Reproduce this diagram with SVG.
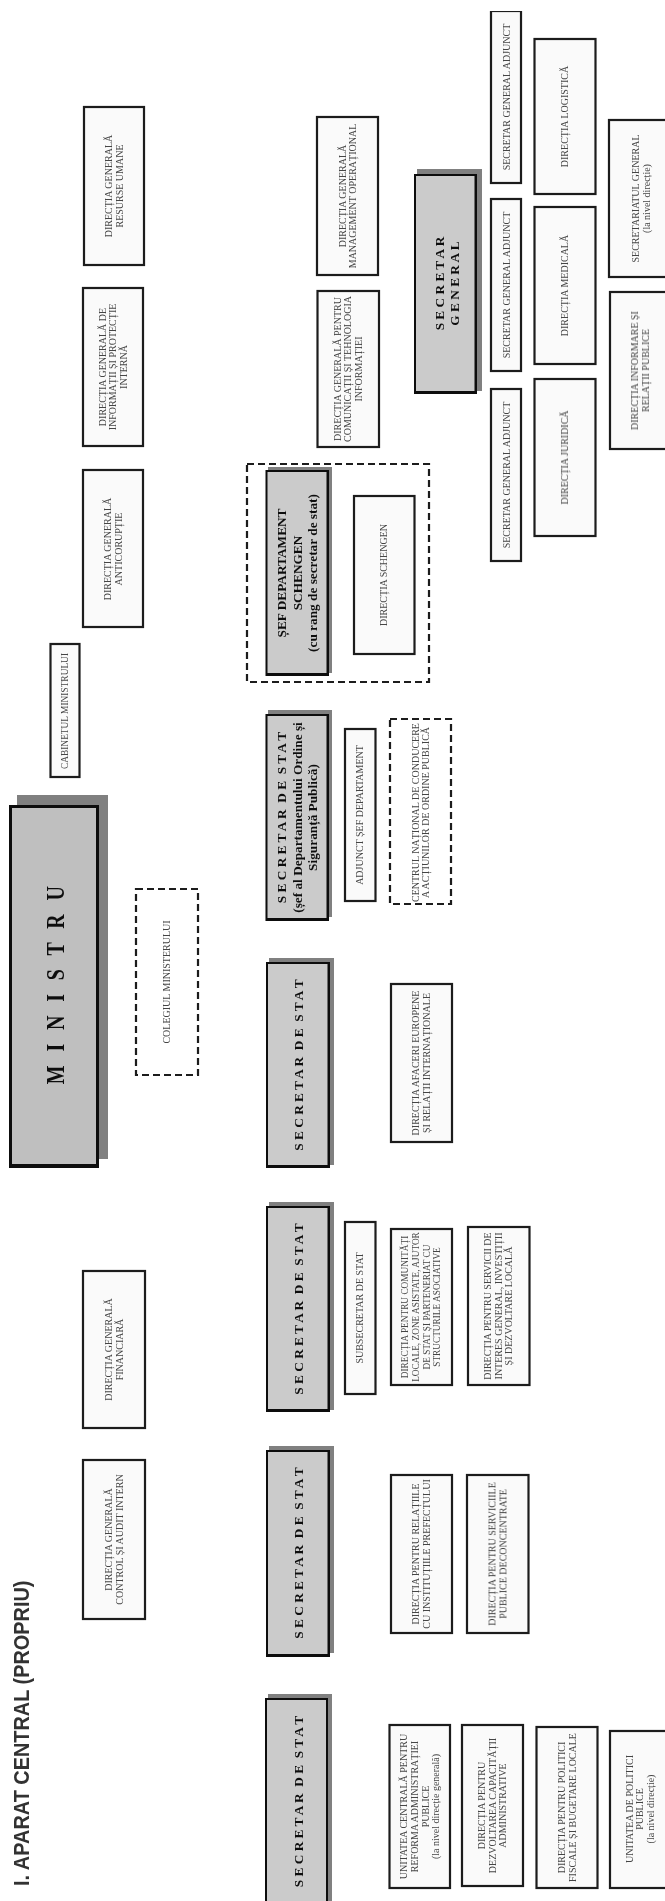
<svg xmlns="http://www.w3.org/2000/svg" width="665" height="1901" viewBox="0 0 665 1901">
<defs><filter id="soft" x="0" y="0" width="100%" height="100%" filterUnits="objectBoundingBox"><feGaussianBlur stdDeviation="0.45"/></filter></defs>
<style>
.box{fill:#fafafa;stroke:#1c1c1c;stroke-width:2.2}
.dash{fill:#fff;stroke:#1c1c1c;stroke-width:2.2;stroke-dasharray:7 4}
.sh{fill:#808080}.edge{fill:#0c0c0c}.face{fill:#cbcbcb}.mface{fill:#bfbfbf}
.t{font:10px "Liberation Serif","Times New Roman",serif;fill:#444;text-anchor:middle;white-space:pre}
.b{font:bold 13.3px "Liberation Serif","Times New Roman",serif;fill:#111;text-anchor:middle;white-space:pre}
</style>
<rect width="665" height="1901" fill="#fff"/>
<g filter="url(#soft)">
<g id="connectors"></g>
<g id="title"><text transform="translate(29,1886) rotate(-90) scale(.905,1)" style="font:bold 22px 'Liberation Sans',Arial,sans-serif;fill:#333">I. APARAT CENTRAL (PROPRIU)</text></g>

<g id="dg-resurse"><rect class="box" x="84" y="107" width="60" height="158"/><text class="t" transform="translate(114,186) rotate(-90)"><tspan x="0" y="-2">DIRECȚIA GENERALĂ</tspan><tspan x="0" y="8.6">RESURSE UMANE</tspan></text></g>
<g id="dg-informatii"><rect class="box" x="83" y="288" width="60" height="158"/><text class="t" transform="translate(113,367) rotate(-90)"><tspan x="0" y="-7.3">DIRECȚIA GENERALĂ DE</tspan><tspan x="0" y="3.3">INFORMAȚII ȘI PROTECȚIE</tspan><tspan x="0" y="13.9">INTERNĂ</tspan></text></g>
<g id="dg-anticoruptie"><rect class="box" x="83" y="470" width="60" height="157"/><text class="t" transform="translate(113,549) rotate(-90)"><tspan x="0" y="-2">DIRECȚIA GENERALĂ</tspan><tspan x="0" y="8.6">ANTICORUPȚIE</tspan></text></g>
<g id="cabinet"><rect class="box" x="50.500" y="644" width="29" height="133"/><text class="t" transform="translate(65,711) rotate(-90)" style="font-size:9.400px"><tspan x="0" y="3.3">CABINETUL MINISTRULUI</tspan></text></g>
<g id="ministru"><rect class="sh" x="17" y="795" width="91" height="364"/><rect class="edge" x="9" y="805" width="90" height="363"/><rect class="mface" x="12" y="808" width="84" height="356"/><text class="b" transform="translate(55,983) rotate(-90) scale(.8,1)" style="font-size:25px;letter-spacing:5.500px"><tspan x="0" y="8.500">M I N I S T R U</tspan></text></g>
<g id="colegiu"><rect class="dash" x="136" y="889" width="62" height="186"/><text class="t" transform="translate(167,982) rotate(-90)"><tspan x="0" y="3.3">COLEGIUL MINISTERULUI</tspan></text></g>
<g id="dg-financiara"><rect class="box" x="83" y="1271" width="62" height="157"/><text class="t" transform="translate(114,1349.500) rotate(-90)"><tspan x="0" y="-2">DIRECȚIA GENERALĂ</tspan><tspan x="0" y="8.6">FINANCIARĂ</tspan></text></g>
<g id="dg-control"><rect class="box" x="83" y="1460" width="62" height="159"/><text class="t" transform="translate(114,1539.500) rotate(-90)"><tspan x="0" y="-2">DIRECȚIA GENERALĂ</tspan><tspan x="0" y="8.6">CONTROL ȘI AUDIT INTERN</tspan></text></g>

<g id="dg-management"><rect class="box" x="317" y="117" width="61" height="158"/><text class="t" transform="translate(347.500,196) rotate(-90)"><tspan x="0" y="-2">DIRECȚIA GENERALĂ</tspan><tspan x="0" y="8.6">MANAGEMENT OPERAȚIONAL</tspan></text></g>
<g id="dg-comunicatii"><rect class="box" x="317.500" y="291" width="61.500" height="156"/><text class="t" transform="translate(348,369) rotate(-90)"><tspan x="0" y="-7.3">DIRECȚIA GENERALĂ PENTRU</tspan><tspan x="0" y="3.3">COMUNICAȚII ȘI TEHNOLOGIA</tspan><tspan x="0" y="13.9">INFORMAȚIEI</tspan></text></g>

<g id="schengen-group"><rect class="dash" x="247" y="464" width="182" height="218"/></g>
<g id="sef-schengen"><rect class="sh" x="268" y="467" width="64" height="206"/><rect class="edge" x="265.500" y="470" width="63.500" height="206"/><rect class="face" x="267.500" y="472" width="59" height="201"/><text class="b" transform="translate(297,573) rotate(-90)"><tspan x="0" y="-11">ȘEF DEPARTAMENT</tspan><tspan x="0" y="4.5">SCHENGEN</tspan><tspan x="0" y="20">(cu rang de secretar de stat)</tspan></text></g>
<g id="directia-schengen"><rect class="box" x="354" y="496" width="60.500" height="158"/><text class="t" transform="translate(384,575) rotate(-90)"><tspan x="0" y="3.3">DIRECȚIA SCHENGEN</tspan></text></g>

<g id="sds-ordine"><rect class="sh" x="268" y="710" width="64" height="207"/><rect class="edge" x="265.500" y="714" width="63.500" height="207"/><rect class="face" x="267.500" y="716" width="59" height="202"/><text class="b" transform="translate(297,817.500) rotate(-90)"><tspan x="0" y="-11">S E C R E T A R  D E  S T A T</tspan><tspan x="0" y="4.5">(șef al Departamentului Ordine și</tspan><tspan x="0" y="20">Siguranță Publică)</tspan></text></g>
<g id="adjunct"><rect class="box" x="345" y="729" width="30.500" height="172"/><text class="t" transform="translate(360,815) rotate(-90)"><tspan x="0" y="3.3">ADJUNCT ȘEF DEPARTAMENT</tspan></text></g>
<g id="centrul"><rect class="dash" x="390" y="719" width="61" height="185"/><text class="t" transform="translate(420.500,812.500) rotate(-90)"><tspan x="0" y="-2">CENTRUL NAȚIONAL DE CONDUCERE</tspan><tspan x="0" y="8.6">A ACȚIUNILOR DE ORDINE PUBLICĂ</tspan></text></g>

<g id="sds-3"><rect class="sh" x="269" y="958" width="65" height="207"/><rect class="edge" x="266" y="962" width="64" height="206"/><rect class="face" x="268" y="964" width="59.500" height="201"/><text class="b" transform="translate(298,1065) rotate(-90)"><tspan x="0" y="4.5">S E C R E T A R  D E  S T A T</tspan></text></g>
<g id="d-afaceri"><rect class="box" x="391" y="984" width="61" height="158"/><text class="t" transform="translate(421,1063) rotate(-90)"><tspan x="0" y="-2">DIRECȚIA AFACERI EUROPENE</tspan><tspan x="0" y="8.6">ȘI RELAȚII INTERNAȚIONALE</tspan></text></g>

<g id="sds-4"><rect class="sh" x="269" y="1202" width="65" height="208"/><rect class="edge" x="266" y="1206" width="64" height="206"/><rect class="face" x="268" y="1208" width="59.500" height="201"/><text class="b" transform="translate(298,1309) rotate(-90)"><tspan x="0" y="4.5">S E C R E T A R  D E  S T A T</tspan></text></g>
<g id="subsecretar"><rect class="box" x="345" y="1222" width="30.500" height="172"/><text class="t" transform="translate(360,1308) rotate(-90)"><tspan x="0" y="3.3">SUBSECRETAR DE STAT</tspan></text></g>
<g id="d-comunitati"><rect class="box" x="391" y="1229" width="61" height="156"/><text class="t" transform="translate(421,1307) rotate(-90)" style="font-size:9.300px"><tspan x="0" y="-12.6">DIRECȚIA PENTRU COMUNITĂȚI</tspan><tspan x="0" y="-2">LOCALE, ZONE ASISTATE, AJUTOR</tspan><tspan x="0" y="8.6">DE STAT ȘI PARTENERIAT CU</tspan><tspan x="0" y="19.2">STRUCTURILE ASOCIATIVE</tspan></text></g>
<g id="d-servicii"><rect class="box" x="468" y="1227" width="61.500" height="158"/><text class="t" transform="translate(498.500,1306) rotate(-90)"><tspan x="0" y="-7.3">DIRECȚIA PENTRU SERVICII DE</tspan><tspan x="0" y="3.3">INTERES GENERAL, INVESTIȚII</tspan><tspan x="0" y="13.9">ȘI DEZVOLTARE LOCALĂ</tspan></text></g>

<g id="sds-5"><rect class="sh" x="269" y="1446" width="65" height="207"/><rect class="edge" x="266" y="1450" width="64" height="207"/><rect class="face" x="268" y="1452" width="59.500" height="202"/><text class="b" transform="translate(298,1553) rotate(-90)"><tspan x="0" y="4.5">S E C R E T A R  D E  S T A T</tspan></text></g>
<g id="d-relatii"><rect class="box" x="391" y="1475" width="61" height="158"/><text class="t" transform="translate(421,1554) rotate(-90)"><tspan x="0" y="-2">DIRECȚIA PENTRU RELAȚIILE</tspan><tspan x="0" y="8.6">CU INSTITUȚIILE PREFECTULUI</tspan></text></g>
<g id="d-servicii-publice"><rect class="box" x="467" y="1475" width="61.500" height="158"/><text class="t" transform="translate(497.500,1554) rotate(-90)"><tspan x="0" y="-2">DIRECȚIA PENTRU SERVICIILE</tspan><tspan x="0" y="8.6">PUBLICE DECONCENTRATE</tspan></text></g>

<g id="sds-6"><rect class="sh" x="268" y="1694" width="64" height="207"/><rect class="edge" x="265" y="1698" width="63" height="207"/><rect class="face" x="267" y="1700" width="59" height="205"/><text class="b" transform="translate(298,1801.500) rotate(-90)"><tspan x="0" y="4.5">S E C R E T A R  D E  S T A T</tspan></text></g>
<g id="u-centrala"><rect class="box" x="389.500" y="1725" width="60.500" height="163"/><text class="t" transform="translate(420,1806.500) rotate(-90)"><tspan x="0" y="-12.6">UNITATEA CENTRALĂ PENTRU</tspan><tspan x="0" y="-2">REFORMA ADMINISTRAȚIEI</tspan><tspan x="0" y="8.6">PUBLICE</tspan><tspan x="0" y="19.2">(la nivel direcție generală)</tspan></text></g>
<g id="d-dezvoltarea"><rect class="box" x="462" y="1725" width="61" height="161"/><text class="t" transform="translate(492.500,1805.500) rotate(-90)"><tspan x="0" y="-7.3">DIRECȚIA PENTRU</tspan><tspan x="0" y="3.3">DEZVOLTAREA CAPACITĂȚII</tspan><tspan x="0" y="13.9">ADMINISTRATIVE</tspan></text></g>
<g id="d-politici"><rect class="box" x="536.500" y="1727" width="61" height="161"/><text class="t" transform="translate(567,1807.500) rotate(-90)"><tspan x="0" y="-2">DIRECȚIA PENTRU POLITICI</tspan><tspan x="0" y="8.6">FISCALE ȘI BUGETARE LOCALE</tspan></text></g>
<g id="u-politici"><rect class="box" x="610" y="1731" width="62" height="157"/><text class="t" transform="translate(640,1809) rotate(-90)"><tspan x="0" y="-7.3">UNITATEA DE POLITICI</tspan><tspan x="0" y="3.3">PUBLICE</tspan><tspan x="0" y="13.9">(la nivel direcție)</tspan></text></g>

<g id="secretar-general"><rect class="sh" x="417" y="169" width="65" height="222"/><rect class="edge" x="414" y="174" width="63" height="220"/><rect class="face" x="416" y="176" width="58.500" height="215"/><text class="b" transform="translate(447,283.500) rotate(-90)"><tspan x="0" y="-3.25">S E C R E T A R</tspan><tspan x="0" y="12.25">G E N E R A L</tspan></text></g>
<g id="sga-1"><rect class="box" x="491" y="11" width="30" height="172"/><text class="t" transform="translate(506.500,97) rotate(-90)"><tspan x="0" y="3.3">SECRETAR GENERAL ADJUNCT</tspan></text></g>
<g id="sga-2"><rect class="box" x="491" y="199" width="30" height="172"/><text class="t" transform="translate(506.500,285) rotate(-90)"><tspan x="0" y="3.3">SECRETAR GENERAL ADJUNCT</tspan></text></g>
<g id="sga-3"><rect class="box" x="491" y="389" width="30" height="172"/><text class="t" transform="translate(506.500,475) rotate(-90)"><tspan x="0" y="3.3">SECRETAR GENERAL ADJUNCT</tspan></text></g>
<g id="d-logistica"><rect class="box" x="534.500" y="39" width="61" height="155"/><text class="t" transform="translate(565,116.500) rotate(-90)"><tspan x="0" y="3.3">DIRECȚIA LOGISTICĂ</tspan></text></g>
<g id="d-medicala"><rect class="box" x="534.500" y="207" width="61" height="157"/><text class="t" transform="translate(565,285.500) rotate(-90)"><tspan x="0" y="3.3">DIRECȚIA MEDICALĂ</tspan></text></g>
<g id="d-juridica"><rect class="box" x="534.500" y="379" width="61" height="157"/><text class="t" transform="translate(565,457.500) rotate(-90)"><tspan x="0" y="3.3">DIRECȚIA JURIDICĂ</tspan></text></g>
<g id="secretariat"><rect class="box" x="609" y="120" width="63" height="157"/><text class="t" transform="translate(641,198.500) rotate(-90)"><tspan x="0" y="-2">SECRETARIATUL GENERAL</tspan><tspan x="0" y="8.6">(la nivel direcție)</tspan></text></g>
<g id="d-informare"><rect class="box" x="610" y="292" width="62" height="157"/><text class="t" transform="translate(640,370.500) rotate(-90)"><tspan x="0" y="-2">DIRECȚIA INFORMARE ȘI</tspan><tspan x="0" y="8.6">RELAȚII PUBLICE</tspan></text></g>
</g>
</svg>
